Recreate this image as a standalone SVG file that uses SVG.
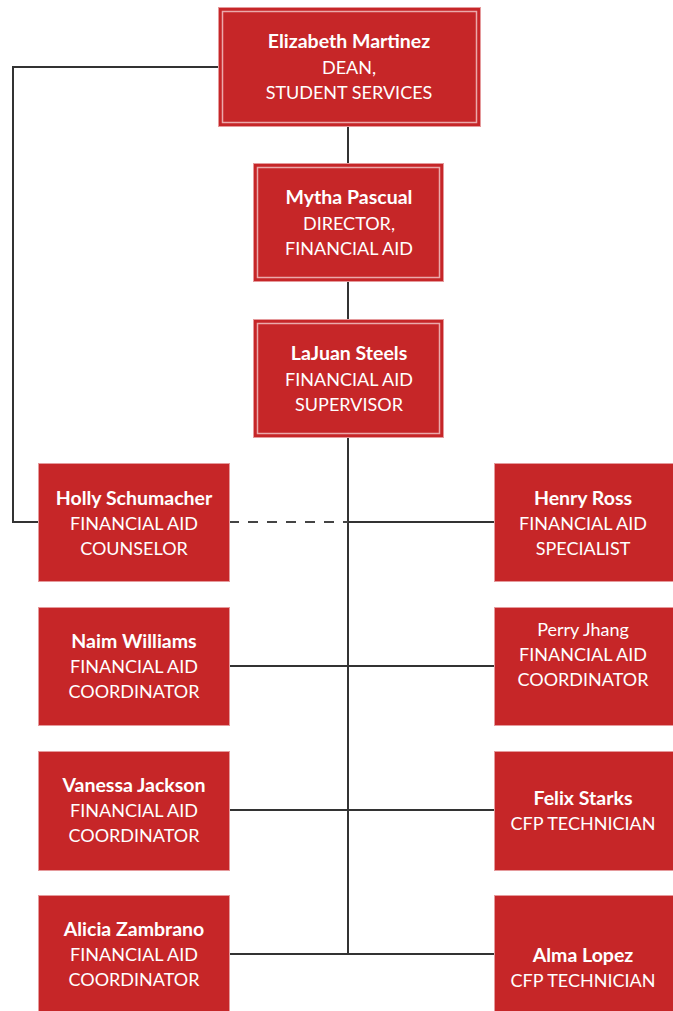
<svg xmlns="http://www.w3.org/2000/svg" width="673" height="1011" viewBox="0 0 673 1011">
<style>
.box{fill:#C62628;stroke:#E59A9C;stroke-width:1}
.inner{fill:none;stroke:#EBA9AA;stroke-width:1.5}
.t{font-family:Lato,"Open Sans",sans-serif;font-size:18px;fill:#fff;text-anchor:middle}
.b{font-weight:bold;font-size:19.5px}
.c{stroke:#333;stroke-width:2;fill:none}
.d{stroke:#444;stroke-width:2;fill:none;stroke-dasharray:10 9}
</style>
<rect width="673" height="1011" fill="#fff"/>
<g id="connectors">
<path class="c" d="M348 126V163M348 281V319M348 437V954"/>
<path class="c" d="M218 67H13V522H38"/>
<path class="d" d="M229 522H348"/>
<path class="c" d="M348 522H494"/>
<path class="c" d="M229 666H494M229 810H494M229 954H494"/>
</g>
<g id="n-martinez">
<rect class="box" x="218.5" y="7.5" width="262" height="119"/>
<rect class="inner" x="222.5" y="11.5" width="254" height="111"/>
<text class="t b" x="349" y="48">Elizabeth Martinez</text>
<text class="t" x="349" y="74">DEAN,</text>
<text class="t" x="349" y="99">STUDENT SERVICES</text>
</g>
<g id="n-pascual">
<rect class="box" x="253.5" y="163.5" width="190" height="118"/>
<rect class="inner" x="257.5" y="167.5" width="182" height="110"/>
<text class="t b" x="349" y="204">Mytha Pascual</text>
<text class="t" x="349" y="230">DIRECTOR,</text>
<text class="t" x="349" y="255">FINANCIAL AID</text>
</g>
<g id="n-steels">
<rect class="box" x="253.5" y="319.5" width="190" height="118"/>
<rect class="inner" x="257.5" y="323.5" width="182" height="110"/>
<text class="t b" x="349" y="360">LaJuan Steels</text>
<text class="t" x="349" y="386">FINANCIAL AID</text>
<text class="t" x="349" y="411">SUPERVISOR</text>
</g>
<g id="n-schumacher">
<rect class="box" x="38.5" y="463.5" width="191" height="118"/>
<text class="t b" x="134" y="505">Holly Schumacher</text>
<text class="t" x="134" y="530">FINANCIAL AID</text>
<text class="t" x="134" y="555">COUNSELOR</text>
</g>
<g id="n-ross">
<rect class="box" x="494.5" y="463.5" width="190" height="118"/>
<text class="t b" x="583" y="505">Henry Ross</text>
<text class="t" x="583" y="530">FINANCIAL AID</text>
<text class="t" x="583" y="555">SPECIALIST</text>
</g>
<g id="n-williams">
<rect class="box" x="38.5" y="607.5" width="191" height="118"/>
<text class="t b" x="134" y="648">Naim Williams</text>
<text class="t" x="134" y="673">FINANCIAL AID</text>
<text class="t" x="134" y="698">COORDINATOR</text>
</g>
<g id="n-jhang">
<rect class="box" x="494.5" y="607.5" width="190" height="118"/>
<text class="t" x="583" y="636">Perry Jhang</text>
<text class="t" x="583" y="661">FINANCIAL AID</text>
<text class="t" x="583" y="686">COORDINATOR</text>
</g>
<g id="n-jackson">
<rect class="box" x="38.5" y="751.5" width="191" height="119"/>
<text class="t b" x="134" y="792">Vanessa Jackson</text>
<text class="t" x="134" y="817">FINANCIAL AID</text>
<text class="t" x="134" y="842">COORDINATOR</text>
</g>
<g id="n-starks">
<rect class="box" x="494.5" y="751.5" width="190" height="119"/>
<text class="t b" x="583" y="805">Felix Starks</text>
<text class="t" x="583" y="830">CFP TECHNICIAN</text>
</g>
<g id="n-zambrano">
<rect class="box" x="38.5" y="895.5" width="191" height="130"/>
<text class="t b" x="134" y="936">Alicia Zambrano</text>
<text class="t" x="134" y="961">FINANCIAL AID</text>
<text class="t" x="134" y="986">COORDINATOR</text>
</g>
<g id="n-lopez">
<rect class="box" x="494.5" y="895.5" width="190" height="130"/>
<text class="t b" x="583" y="962">Alma Lopez</text>
<text class="t" x="583" y="987">CFP TECHNICIAN</text>
</g>
</svg>
